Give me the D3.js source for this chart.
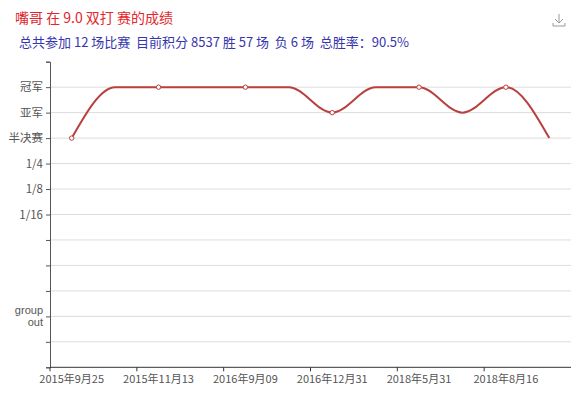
<!DOCTYPE html>
<html>
<head>
<meta charset="utf-8">
<script src="https://cdn.jsdelivr.net/npm/d3@7"></script>
<style>
  body { margin: 0; background: #fff; }
  svg text { font-family: "Noto Sans CJK SC", "Noto Sans", sans-serif; white-space: pre; }
  svg text.small { font-family: "Liberation Sans", Arial, sans-serif; }
</style>
</head>
<body>
<div id="chart"></div>
<script>
// match dates (categories) and result level per match
var dates = ["2015年9月25", "2015年10月16", "2015年11月13", "2016年3月12", "2016年9月09", "2016年10月22",
             "2016年12月31", "2017年5月20", "2018年5月31", "2018年7月07", "2018年8月16", "2018年10月20"];
var results = [9, 11, 11, 11, 11, 11, 10, 11, 11, 10, 11, 9];

// y levels 0..12, only some have labels
var levelLabels = {11: ["冠军"], 10: ["亚军"], 9: ["半决赛"], 8: ["1/4"], 7: ["1/8"], 6: ["1/16"], 2: ["group", "out"]};
var levelTicks = d3.range(0, 13);

var titleText = "嘴哥 在 9.0 双打 赛的成绩";
var subText = "总共参加 12 场比赛  目前积分 8537 胜 57 场  负 6 场  总胜率：90.5%";

var w = 582, h = 399;
var margin = {left: 50, right: 11, top: 61.7, bottom: 31.7};

var svg = d3.select("#chart").append("svg")
    .attr("width", w)
    .attr("height", h);

// titles
svg.append("text")
    .attr("x", 15).attr("y", 23)
    .attr("font-size", 14)
    .attr("fill", "#e2262b")
    .text(titleText);

svg.append("text")
    .attr("x", 19).attr("y", 47)
    .attr("font-size", 13)
    .attr("fill", "#3535ad")
    .text(subText);

// download icon
var icon = svg.append("g").attr("transform", "translate(559,20)")
    .attr("stroke", "#999").attr("fill", "none").attr("stroke-width", 1);
icon.append("path").attr("d", "M0,-6 V3 M-4,-1 L0,3 L4,-1");
icon.append("path").attr("d", "M-6,3 V6 H6 V3");

var x = d3.scaleBand()
    .domain(dates)
    .range([margin.left, w - margin.right]);

var y = d3.scaleLinear()
    .domain([0, 12])
    .range([h - margin.bottom, margin.top]);

// horizontal grid lines
svg.append("g")
    .selectAll("line")
    .data(levelTicks.filter(function(d) { return d > 0 && d < 12; }))
    .enter()
    .append("line")
        .attr("x1", margin.left)
        .attr("x2", w - margin.right)
        .attr("y1", function(d) { return y(d); })
        .attr("y2", function(d) { return y(d); })
        .attr("stroke", "#dcdcdc");

// y axis
var yAxis = d3.axisLeft(y)
    .tickValues(levelTicks)
    .tickSize(4)
    .tickFormat(function(d) { return ""; });

var yg = svg.append("g")
    .attr("transform", "translate(" + margin.left + ",0)")
    .call(yAxis);
yg.select(".domain").attr("stroke", "#555");
yg.selectAll(".tick line").attr("stroke", "#555");

var ylab = svg.append("g");
Object.keys(levelLabels).forEach(function(k) {
    var lines = levelLabels[k];
    lines.forEach(function(s, i) {
        ylab.append("text")
            .attr("class", lines.length > 1 ? "small" : null)
            .attr("x", 43)
            .attr("y", y(+k) + 4 - (lines.length - 1) * 6 + i * 12)
            .attr("text-anchor", "end")
            .attr("font-size", lines.length > 1 ? 11 : 11.5)
            .attr("fill", "#555")
            .text(s);
    });
});

// x axis: ticks on band boundaries, labels every other category
var xAxisG = svg.append("g")
    .attr("transform", "translate(0," + (h - margin.bottom) + ")");
xAxisG.append("line")
    .attr("x1", margin.left).attr("x2", w - margin.right)
    .attr("stroke", "#333");
xAxisG.selectAll("line.tk")
    .data(dates.filter(function(d, i) { return i % 2 == 0; }))
    .enter()
    .append("line")
        .attr("class", "tk")
        .attr("x1", function(d) { return x(d); })
        .attr("x2", function(d) { return x(d); })
        .attr("y1", 0).attr("y2", 4)
        .attr("stroke", "#333");
xAxisG.selectAll("text")
    .data(dates.filter(function(d, i) { return i % 2 == 0; }))
    .enter()
    .append("text")
        .attr("x", function(d) { return x(d) + x.bandwidth() / 2; })
        .attr("y", 16)
        .attr("text-anchor", "middle")
        .attr("font-size", 11)
        .attr("fill", "#555")
        .text(function(d) { return d; });

// line
var line = d3.line()
    .x(function(d, i) { return x(dates[i]) + x.bandwidth() / 2; })
    .y(function(d) { return y(d); })
    .curve(d3.curveMonotoneX);

svg.append("path")
    .datum(results)
    .attr("d", line)
    .attr("fill", "none")
    .attr("stroke", "#b8403f")
    .attr("stroke-width", 2);

svg.append("g")
    .selectAll("circle")
    .data(results.map(function(d, i) { return {v: d, i: i}; }).filter(function(d) { return d.i % 2 == 0; }))
    .enter()
    .append("circle")
        .attr("cx", function(d) { return x(dates[d.i]) + x.bandwidth() / 2; })
        .attr("cy", function(d) { return y(d.v); })
        .attr("r", 2.2)
        .attr("fill", "#fff")
        .attr("stroke", "#b8403f")
        .attr("stroke-width", 1);
</script>
</body>
</html>
